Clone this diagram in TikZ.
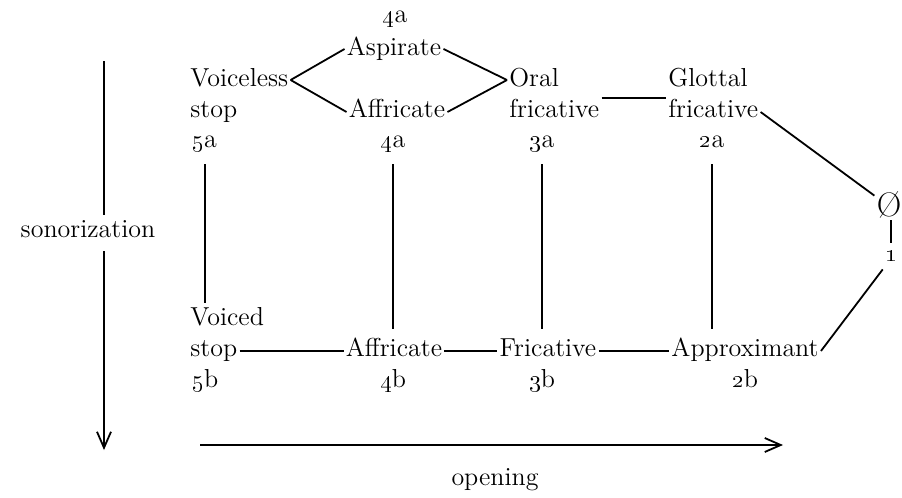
\documentclass[tikz,border=0pt]{standalone}
\usepackage{tikz}
\usetikzlibrary{arrows.meta}

\tikzset{
  lab/.style={inner sep=1pt, text height=9pt, text depth=3pt, font=\fontsize{13}{15}\selectfont},
  link/.style={line width=0.9pt},
  vlink/.style={link, shorten <=4pt, shorten >=4pt},
  axis/.style={line width=0.9pt, -{Straight Barb[length=8pt,width=7pt]}}
}
\newcommand{\osn}[1]{\oldstylenums{#1}}

\begin{document}
\begin{tikzpicture}[x=0.5pt,y=-0.5pt]
\useasboundingbox (0,0) rectangle (902,498);
% Upper row
\node[lab,anchor=base] (n4top) at (395,23) {\osn{4}a};
\node[lab,anchor=base] (aspirate) at (394,55) {Aspirate};
\node[lab,anchor=base west] (voiceless) at (188,86) {Voiceless};
\node[lab,anchor=base west] (stopA) at (188,118) {stop};
\node[lab,anchor=base west] (n5a) at (190,148) {\osn{5}a};
\node[lab,anchor=base] (affricA) at (397,118) {Affricate};
\node[lab,anchor=base] (n4a) at (393,148) {\osn{4}a};
\node[lab,anchor=base west] (oral) at (507,86) {Oral};
\node[lab,anchor=base west] (fricA) at (507,118) {fricative};
\node[lab,anchor=base] (n3a) at (542,148) {\osn{3}a};
\node[lab,anchor=base west] (glottal) at (666,86) {Glottal};
\node[lab,anchor=base west] (fricG) at (666,118) {fricative};
\node[lab,anchor=base] (n2a) at (712,148) {\osn{2}a};
% Right end
\node[lab,anchor=base,text depth=0pt,font=\fontsize{17}{19}\selectfont] (zero) at (889,216) {\O};
\node[lab,anchor=base,text height=6pt] (one) at (891,261) {\osn{1}};
% Lower row
\node[lab,anchor=base west] (voiced) at (188,325) {Voiced};
\node[lab,anchor=base west] (stopB) at (188,357) {stop};
\node[lab,anchor=base west] (n5b) at (190,387) {\osn{5}b};
\node[lab,anchor=base] (affricB) at (394,357) {Affricate};
\node[lab,anchor=base] (n4b) at (393,387) {\osn{4}b};
\node[lab,anchor=base] (fricB) at (548,357) {Fricative};
\node[lab,anchor=base] (n3b) at (542,387) {\osn{3}b};
\node[lab,anchor=base] (approx) at (745,357) {Approximant};
\node[lab,anchor=base] (n2b) at (745,387) {\osn{2}b};
% Axes
\node[lab,anchor=base,text height=10pt,text depth=6pt] (son) at (88,237) {sonorization};
\node[lab,anchor=base] (opening) at (495,485) {opening};
\coordinate (sonTop) at (104,61);
\coordinate (sonEnd) at (104,450);
\coordinate (openStart) at (200,445);
\coordinate (openEnd) at (783,445);
\draw[link] (sonTop) -- (sonTop |- son.north);
\draw[axis] (sonTop |- son.south) -- (sonEnd);
\draw[axis] (openStart) -- (openEnd);
% Upper links
\draw[link] (voiceless.east) -- (aspirate.west);
\draw[link] (voiceless.east) -- (affricA.west);
\draw[link] (aspirate.east) -- (oral.west);
\draw[link] (affricA.east) -- (oral.west);
\draw[link] (fricA.north east) -- (fricG.north west);
\draw[link] (fricG.east) -- (zero.north west);
\draw[link,shorten <=1pt,shorten >=2pt] (one.north |- zero.south) -- (one.north);
\draw[link] (one.south west) -- (approx.east);
% Sonorization links
\draw[vlink,shorten >=1pt] (n5a.south) -- (n5a.south |- voiced.north);
\draw[vlink] (n4a.south) -- (n4a.south |- affricB.north);
\draw[vlink] (n3a.south) -- (n3a.south |- fricB.north);
\draw[vlink] (n2a.south) -- (n2a.south |- approx.north);
% Lower links
\draw[link] (stopB.east) -- (affricB.west);
\draw[link] (affricB.east) -- (fricB.west);
\draw[link] (fricB.east) -- (approx.west);
\end{tikzpicture}
\end{document}
